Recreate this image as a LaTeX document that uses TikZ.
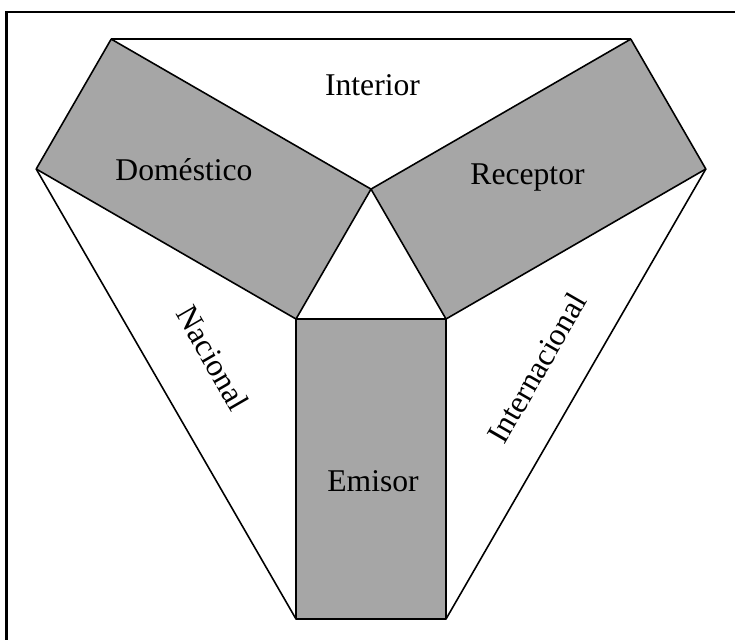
\documentclass[tikz,border=0pt]{standalone}
\usepackage{fontspec}
\setmainfont{Liberation Serif}
\usetikzlibrary{calc}
\definecolor{gris}{HTML}{A6A6A6}
\tikzset{cara/.style={fill=gris,draw=black,line width=0.9pt,line join=round},
  etiq/.style={font=\fontsize{18}{21}\selectfont}}
\begin{document}
\begin{tikzpicture}
   \useasboundingbox (0,0) rectangle (14.7,12.78);
   % marco (solo se ven izquierda y arriba)
   \draw[line width=1.2pt] (0.13,-0.5)--(0.13,12.54)--(15.2,12.54);
   % triangulo central
   \coordinate (Q) at (5.92,6.4); \coordinate (R) at (8.92,6.4); \coordinate (P) at (7.42,8.998);
   \coordinate (A) at ($(P)+(150:6)$); \coordinate (C) at ($(Q)+(150:6)$);
   \coordinate (B) at ($(P)+(30:6)$); \coordinate (D) at ($(R)+(30:6)$);
   \coordinate (E) at ($(Q)+(0,-6)$); \coordinate (F) at ($(R)+(0,-6)$);
   \draw[cara] (A)--(P)--(Q)--(C)--cycle; \draw[cara] (B)--(D)--(R)--(P)--cycle;
   \draw[cara] (Q)--(R)--(F)--(E)--cycle;
   \draw[line width=0.9pt,line join=round] (A)--(B); \draw[line width=0.9pt] (C)--(E); \draw[line width=0.9pt] (D)--(F);
   \node[etiq] (interior) at (7.45,11.08) {Interior}; \node[etiq] (domestico) at (3.68,9.38) {Doméstico};
   \node[etiq] (receptor) at (10.55,9.22) {Receptor}; \node[etiq] (emisor) at (7.46,3.16) {Emisor};
   \node[etiq,rotate=-60] (nacional) at (4.26,5.62) {Nacional};
   \node[etiq,rotate=60] (internacional) at (10.74,5.42) {Internacional};
  \end{tikzpicture}
\end{document}
